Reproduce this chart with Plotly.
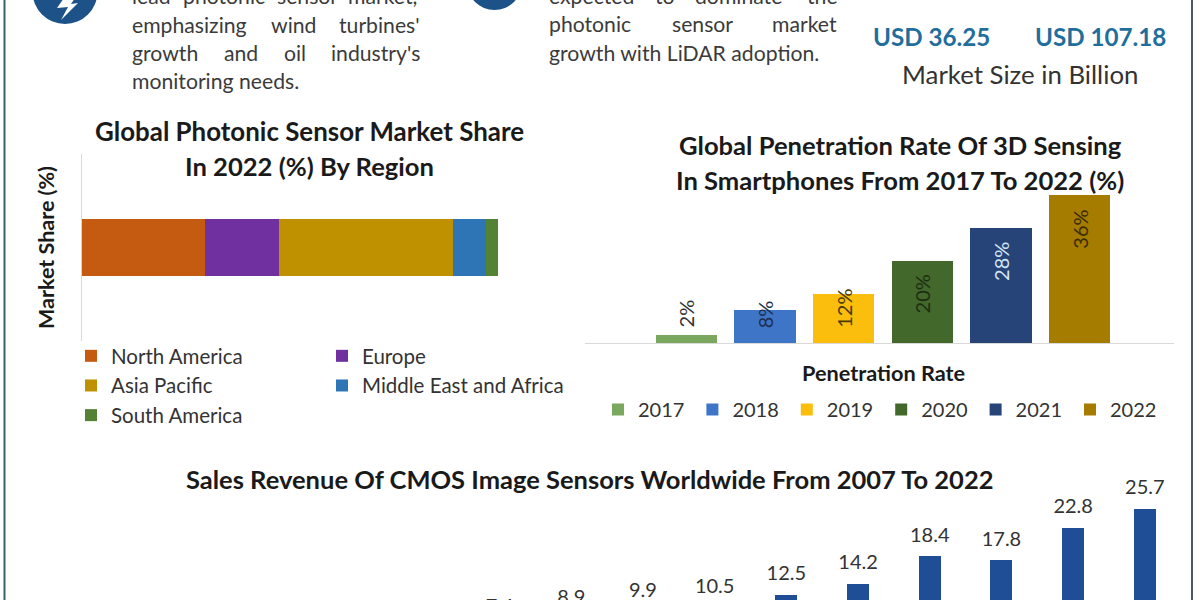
import plotly.graph_objects as go

W, H = 1200, 600
def px(x): return x / W
def py(y): return 1 - y / H

# ---- data ----
regions = ["North America", "Europe", "Asia Pacific", "Middle East and Africa", "South America"]
region_share = [29.6, 17.9, 41.6, 8.0, 2.9]
region_colors = ["#C55A11", "#7030A0", "#BF9000", "#2E75B6", "#548235"]
region_legend = ["legend", "legend3", "legend", "legend3", "legend"]

pen_years = [2017, 2018, 2019, 2020, 2021, 2022]
pen_rates = [2, 8, 12, 20, 28, 36]
pen_colors = ["#7BA85F", "#3F75C6", "#FBBE0C", "#43682B", "#264478", "#A67C00"]
pen_label_pos = [7.3, 7.0, 8.5, 11.9, 19.7, 27.7]
pen_label_colors = ["#333333", "#1c2f4f", "#4a3a00", "#1d2e12", "#d5e3f5", "#3a2c00"]

cmos_years = [2011, 2012, 2013, 2014, 2015, 2016, 2017, 2018, 2019, 2020, 2021, 2022]
cmos_revenue = [7.0, 7.0, 7.4, 8.9, 9.9, 10.5, 12.5, 14.2, 18.4, 17.8, 22.8, 25.7]
cmos_labels = ["7.0", "7.0", "7.4", "8.9", "9.9", "10.5", "12.5", "14.2", "18.4", "17.8", "22.8", "25.7"]

FONT = "Lato"
BODY = "#3b3b3b"
DARK = "#1a1a1a"

fig = go.Figure()

# chart 1: stacked horizontal bar
for name, val, col, leg in zip(regions, region_share, region_colors, region_legend):
    fig.add_trace(go.Bar(y=["Share"], x=[val], name=name, orientation="h", width=0.305,
                         marker=dict(color=col, line=dict(width=0)), xaxis="x", yaxis="y",
                         legend=leg, hoverinfo="name+x"))

# chart 2: penetration rate
for yr, val, col in zip(pen_years, pen_rates, pen_colors):
    fig.add_trace(go.Bar(x=[yr], y=[val], name=str(yr), width=0.78,
                         marker=dict(color=col, line=dict(width=0)), xaxis="x2", yaxis="y2",
                         legend="legend2"))

# chart 3: CMOS revenue
fig.add_trace(go.Bar(x=cmos_years, y=cmos_revenue, width=0.307, showlegend=False,
                     marker=dict(color="#1F4E96", line=dict(width=0)), xaxis="x3", yaxis="y3"))
fig.add_trace(go.Scatter(x=cmos_years, y=[v + 3.0 for v in cmos_revenue], text=cmos_labels,
                         mode="text", textposition="middle center", showlegend=False,
                         textfont=dict(family=FONT, size=20, color="#333333"),
                         xaxis="x3", yaxis="y3", cliponaxis=True))

ann = []
def text(s, x, y, size, color=BODY, bold=False, anchor="center", angle=0):
    ann.append(dict(text=f"<b>{s}</b>" if bold else s, x=px(x), y=py(y - 1), xref="paper", yref="paper",
                    xanchor=anchor, yanchor="middle", showarrow=False, textangle=angle,
                    font=dict(family=FONT, size=size, color=color)))

# justified body copy, word by word
left_para = [(-3, [("lead", 130), ("photonic", 181), ("sensor", 275), ("market,", 346)]),
             (26, [("emphasizing", 130), ("wind", 269), ("turbines'", 337)]),
             (54, [("growth", 130), ("and", 222), ("oil", 282), ("industry's", 329)]),
             (82, [("monitoring needs.", 130)])]
right_para = [(-3, [("expected", 547), ("to", 653), ("dominate", 693), ("the", 805)]),
              (25, [("photonic", 547), ("sensor", 670), ("market", 770)]),
              (54, [("growth with LiDAR adoption.", 547)])]
for y, words in left_para + right_para:
    for w, x in words:
        text(w, x, y, 21.2, anchor="left")

text("USD 36.25", 932, 38, 24.2, "#1F6E9C", bold=True)
text("USD 107.18", 1100, 38, 24.2, "#1F6E9C", bold=True)
text("Market Size in Billion", 1020, 75, 25.8, "#333333")

text("Global Photonic Sensor Market Share", 309, 132, 25.9, DARK, bold=True)
text("In 2022 (%) By Region", 309, 167, 25.6, DARK, bold=True)
text("Global Penetration Rate Of 3D Sensing", 900, 146, 25.6, DARK, bold=True)
text("In Smartphones From 2017 To 2022 (%)", 900, 181, 25.6, DARK, bold=True)
text("Penetration Rate", 883, 374, 21.7, DARK, bold=True)
text("Sales Revenue Of CMOS Image Sensors Worldwide From 2007 To 2022", 590, 480, 25.5, DARK, bold=True)

for yr, rate, pos, col in zip(pen_years, pen_rates, pen_label_pos, pen_label_colors):
    ann.append(dict(text=f"{rate}%", x=yr, y=pos, xref="x2", yref="y2", showarrow=False, textangle=-90,
                    font=dict(family=FONT, size=20, color=col)))

shapes = [
    dict(type="line", xref="paper", yref="paper", x0=px(4.5), x1=px(4.5), y0=0, y1=1,
         line=dict(color="#3B6465", width=2)),
    dict(type="line", xref="paper", yref="paper", x0=px(1192), x1=px(1192), y0=0, y1=1,
         line=dict(color="#4A5A62", width=2)),
    dict(type="circle", xref="paper", yref="paper", x0=px(32.5), x1=px(97.5), y0=py(24), y1=py(-41),
         fillcolor="#1C5288", line=dict(width=0)),
    dict(type="path", xref="paper", yref="paper", fillcolor="white", line=dict(width=0),
         path="M {} {} L {} {} L {} {} L {} {} L {} {} L {} {} L {} {} Z".format(
             px(64), py(-2), px(57), py(8), px(68), py(7), px(61), py(20), px(78), py(3), px(71), py(4), px(75), py(-2))),
    dict(type="circle", xref="paper", yref="paper", x0=px(467), x1=px(522), y0=py(10), y1=py(-45),
         fillcolor="#1C5288", line=dict(width=0)),
]

legend_font = dict(family=FONT, size=20.5, color="#333333")
fig.update_layout(
    width=W, height=H, margin=dict(l=0, r=0, t=0, b=0, pad=0), autosize=False,
    paper_bgcolor="white", plot_bgcolor="rgba(0,0,0,0)", barmode="stack",
    annotations=ann, shapes=shapes, hovermode="closest",
    xaxis=dict(domain=[px(81.5), px(498)], range=[0, 100], visible=False, anchor="y"),
    yaxis=dict(domain=[py(341), py(154)], range=[-0.5, 0.5], anchor="x", type="category",
               showline=True, linecolor="#D9D9D9", linewidth=1, showticklabels=False, ticks="", showgrid=False,
               title=dict(text="<b>Market Share (%)</b>", standoff=19,
                          font=dict(family=FONT, size=21.5, color=DARK))),
    xaxis2=dict(domain=[px(585), px(1174)], range=[2015.71, 2023.2], anchor="y2", showline=True,
                linecolor="#D9D9D9", linewidth=1, showticklabels=False, ticks="", showgrid=False, zeroline=False),
    yaxis2=dict(domain=[py(343), py(185)], range=[0, 38.4], anchor="x2", visible=False),
    xaxis3=dict(domain=[px(35), px(1180)], range=[2006.52, 2022.49], anchor="y3", visible=False),
    yaxis3=dict(domain=[0, py(440)], range=[11.7, 36.3], anchor="x3", visible=False),
    legend=dict(x=px(71), y=py(336), xanchor="left", yanchor="top", font=legend_font,
                bgcolor="rgba(0,0,0,0)", orientation="v", traceorder="normal"),
    legend3=dict(x=px(322), y=py(336), xanchor="left", yanchor="top", font=legend_font,
                 bgcolor="rgba(0,0,0,0)", orientation="v", traceorder="normal"),
    legend2=dict(x=px(598), y=py(390), xanchor="left", yanchor="top", font=dict(family=FONT, size=20, color="#333333"),
                 bgcolor="rgba(0,0,0,0)", orientation="h", entrywidth=49.4, entrywidthmode="pixels",
                 traceorder="normal"),
)

fig.write_html("out.html", config=dict(displayModeBar=False),
               post_script="document.body.style.margin='0';document.documentElement.style.overflow='hidden';")
